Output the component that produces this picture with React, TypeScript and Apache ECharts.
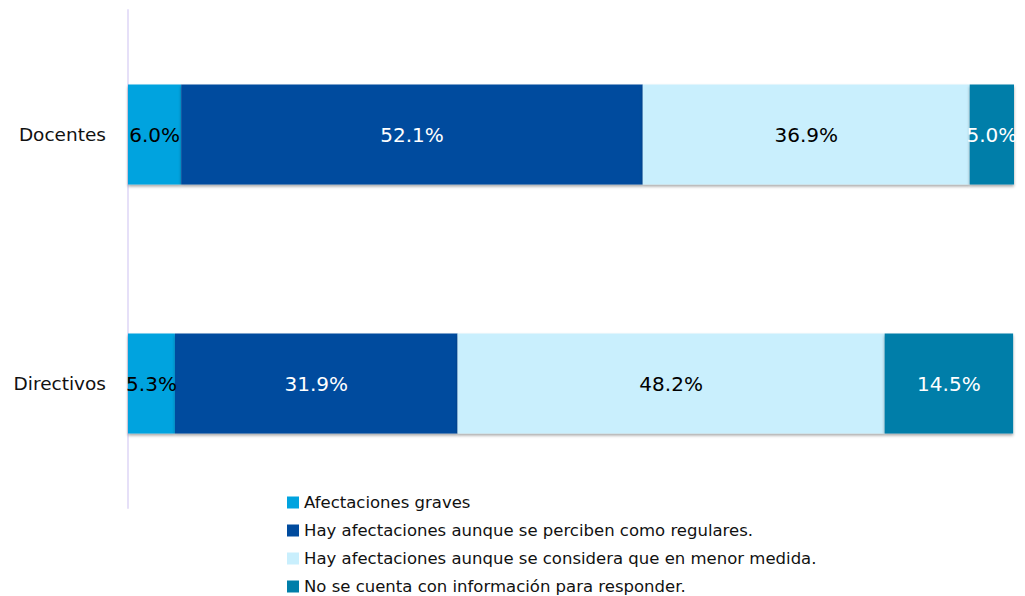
import React, { useEffect, useRef } from "react";
import * as echarts from "echarts";

const categories = ["Directivos", "Docentes"];
const seriesNames = [
  "Afectaciones graves",
  "Hay afectaciones aunque se perciben como regulares.",
  "Hay afectaciones aunque se considera que en menor medida.",
  "No se cuenta con información para responder.",
];
const graves = [5.3, 6.0];
const regulares = [31.9, 52.1];
const menorMedida = [48.2, 36.9];
const sinInfo = [14.5, 5.0];

const colors = ["#00A3DF", "#004B9E", "#C9EFFD", "#007EA9"];
const labelColors = ["#000000", "#ffffff", "#000000", "#ffffff"];

const FONT = "DejaVu Sans";

export default function App() {
  const ref = useRef<HTMLDivElement>(null);
  useEffect(() => {
    document.body.style.margin = "0";
    const chart = echarts.init(ref.current!, null, { renderer: "svg" });
    const dataSets = [graves, regulares, menorMedida, sinInfo];
    chart.setOption({
      animation: false,
      textStyle: { fontFamily: FONT },
      grid: { left: 128, right: 11, top: 10, bottom: 88, containLabel: false },
      legend: {
        orient: "vertical",
        left: 287,
        top: 494,
        padding: 0,
        itemWidth: 12,
        itemHeight: 12,
        itemGap: 11,
        icon: "rect",
        textStyle: { fontSize: 16.5, color: "#111", lineHeight: 17, fontFamily: FONT },
        data: seriesNames,
      },
      xAxis: {
        type: "value",
        min: 0,
        max: 100,
        show: false,
      },
      yAxis: {
        type: "category",
        data: categories,
        axisLine: { show: true, lineStyle: { color: "#E6E0F8", width: 2 } },
        axisTick: { show: false },
        axisLabel: { fontSize: 18.5, color: "#111", margin: 22, fontFamily: FONT },
      },
      series: dataSets.map((d, i) => ({
        name: seriesNames[i],
        type: "bar",
        stack: "total",
        barWidth: 100,
        data: d,
        itemStyle: {
          color: colors[i],
          shadowColor: "rgba(0,0,0,0.35)",
          shadowBlur: 3,
          shadowOffsetY: 2,
        },
        label: {
          show: true,
          position: "inside",
          formatter: (p: any) => p.value.toFixed(1) + "%",
          color: labelColors[i],
          fontSize: 20,
          fontFamily: FONT,
        },
      })),
    });
    return () => chart.dispose();
  }, []);
  return (
    <div
      ref={ref}
      style={{ position: "absolute", left: 0, top: 0, width: 1025, height: 596 }}
    />
  );
}
